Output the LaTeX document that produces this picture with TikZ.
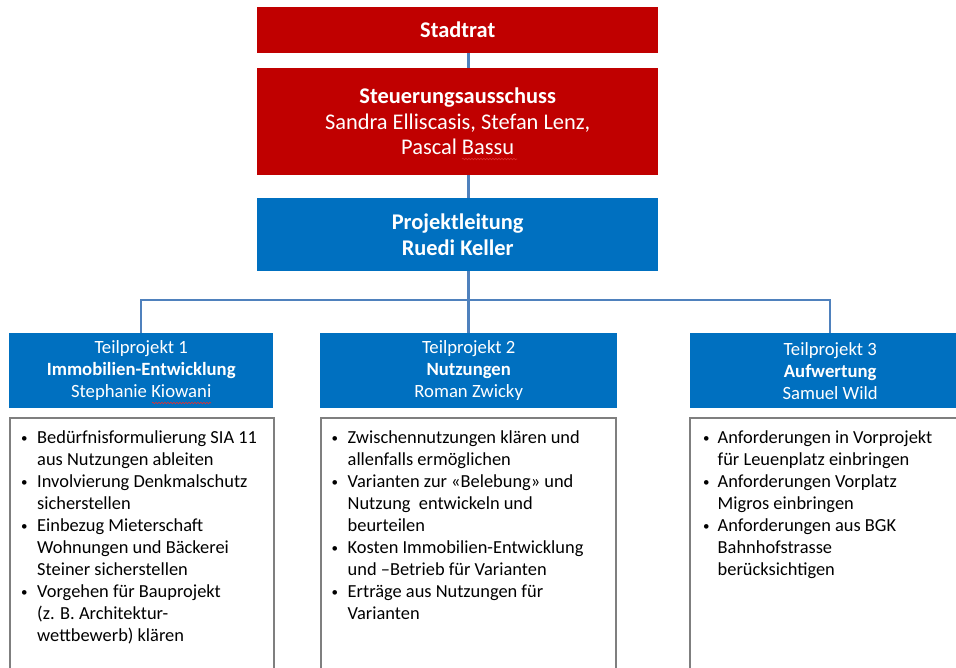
\documentclass[tikz,border=0pt]{standalone}
\usepackage{fontspec}
\setmainfont{Carlito}
\usetikzlibrary{decorations.pathmorphing,backgrounds}
\definecolor{dred}{HTML}{C00000}
\definecolor{mblue}{HTML}{0070C0}
\definecolor{lineblue}{HTML}{4F81BD}
\definecolor{boxgray}{HTML}{7F7F7F}
\definecolor{spellred}{HTML}{E03030}
\newcommand\bul{\raisebox{1.2pt}{\fontsize{13}{13}\selectfont\textbullet}}
\begin{document}
\begin{tikzpicture}[x=1pt,y=-1pt,
  redbox/.style={fill=dred,text=white,inner sep=0pt,anchor=north west,align=center,
    font=\fontsize{22.4}{25.5}\selectfont},
  bluebox/.style={fill=mblue,text=white,inner sep=0pt,anchor=north west,align=center,
    font=\fontsize{22.4}{26}\selectfont\bfseries},
  tpbox/.style={fill=mblue,text=white,inner sep=0pt,anchor=north west,align=center,
    minimum height=75pt,font=\fontsize{18.7}{22}\selectfont},
  listbox/.style={draw=boxgray,line width=2.5pt,fill=white},
  listtext/.style={inner sep=0pt,anchor=north west,align=left,
    font=\fontsize{18.4}{22}\selectfont},
  conn/.style={draw=lineblue,line width=2.5pt},
  spell/.style={draw=spellred,line width=0.6pt,decorate,
    decoration={snake,amplitude=0.8pt,segment length=3pt}}]
\useasboundingbox (0,0) rectangle (956,667);
\clip (0,0) rectangle (956,667);

% top boxes
\node[redbox,minimum width=401pt,minimum height=46pt] (stadt) at (257,7) {\bfseries Stadtrat};
\node[redbox,minimum width=401pt,minimum height=107pt] (steuer) at (257,68)
  {\textbf{Steuerungsausschuss}\\Sandra Elliscasis, Stefan Lenz,\\Pascal Bassu};
\node[bluebox,minimum width=401pt,minimum height=73pt] (pl) at (257,198)
  {Projektleitung\\Ruedi Keller};

% sub-project headers
\node[tpbox,minimum width=264pt] (tp1) at (9,333)
  {Teilprojekt 1\\\textbf{Immobilien-Entwicklung}\\Stephanie Kiowani};
\node[tpbox,minimum width=297pt] (tp2) at (320,333)
  {Teilprojekt 2\\\textbf{Nutzungen}\\Roman Zwicky};
\node[tpbox,minimum width=280pt] (tp3) at (690,333)
  {Teilprojekt 3\\\textbf{Aufwertung}\\Samuel Wild};

% connectors (behind the boxes)
\coordinate (hub) at (469,300);
\begin{pgfonlayer}{background}
\fill[white] (0,0) rectangle (956,667);
\draw[conn] (stadt.south -| tp2.north) -- (steuer.north -| tp2.north);
\draw[conn] (steuer.south -| tp2.north) -- (pl.north -| tp2.north);
\draw[conn] (pl.south -| tp2.north) -- (tp2.north);
\draw[conn] (tp1.north) -- (tp1.north |- hub) -- (tp3.north |- hub) -- (tp3.north);
\end{pgfonlayer}

% list boxes
\draw[listbox] (10,418) rectangle (274,700);
\draw[listbox] (321,418) rectangle (616,700);
\draw[listbox] (690,418) rectangle (980,700);

\node[listtext] (l1) at (21,428)
  {\begin{tabular}{@{}p{16pt}@{}l@{}}
   \bul & Bedürfnisformulierung SIA 11\\
        & aus Nutzungen ableiten\\
   \bul & Involvierung Denkmalschutz\\
        & sicherstellen\\
   \bul & Einbezug Mieterschaft\\
        & Wohnungen und Bäckerei\\
        & Steiner sicherstellen\\
   \bul & Vorgehen für Bauprojekt\\
        & (z. B. Architektur-\\
        & wettbewerb) klären
   \end{tabular}};
\node[listtext] (l2) at (331.5,428)
  {\begin{tabular}{@{}p{16pt}@{}l@{}}
   \bul & Zwischennutzungen klären und\\
        & allenfalls ermöglichen\\
   \bul & Varianten zur «Belebung» und\\
        & Nutzung\ \ entwickeln und\\
        & beurteilen\\
   \bul & Kosten Immobilien-Entwicklung\\
        & und –Betrieb für Varianten\\
   \bul & Erträge aus Nutzungen für\\
        & Varianten
   \end{tabular}};
\node[listtext] (l3) at (703,428)
  {\begin{tabular}{@{}p{14.5pt}@{}l@{}}
   \bul & Anforderungen in Vorprojekt\\
        & für Leuenplatz einbringen\\
   \bul & Anforderungen Vorplatz\\
        & Migros einbringen\\
   \bul & Anforderungen aus BGK\\
        & Bahnhofstrasse\\
        & berücksichtigen
   \end{tabular}};

% spell-check marks
\draw[spell] (462,159) -- (517,159);
\draw[spell] (152,403) -- (211,403);
\end{tikzpicture}
\end{document}
